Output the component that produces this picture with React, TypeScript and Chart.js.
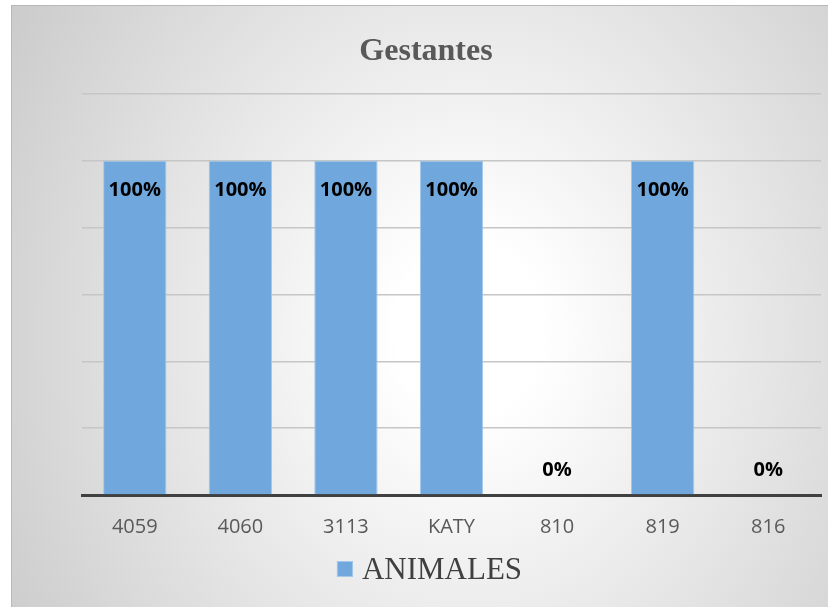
import React, { useEffect, useRef } from 'react';
import { Chart, registerables } from 'chart.js';

Chart.register(...registerables);

const TITLE = 'Gestantes';
const SERIES_LABEL = 'ANIMALES';
const CATEGORIES = ['4059', '4060', '3113', 'KATY', '810', '819', '816'];
const VALUES = [1, 1, 1, 1, 0, 1, 0];
const Y_MIN = 0;
const Y_MAX = 1.2;
const Y_STEP = 0.2;

const BAR_COLOR = '#70a7dc';
const BAR_EDGE = '#a3c8ea';

const fmtPct = (v: number) => `${Math.round(v * 100)}%`;

const decorPlugin = {
  id: 'decor',
  afterDatasetsDraw(chart: any) {
    const ctx = chart.ctx;
    const meta = chart.getDatasetMeta(0);
    const base = chart.scales.y.getPixelForValue(0);
    ctx.save();
    ctx.font = 'bold 20px "Open Sans"';
    ctx.fillStyle = '#000000';
    ctx.textAlign = 'center';
    ctx.textBaseline = 'middle';
    meta.data.forEach((bar: any, i: number) => {
      const v = VALUES[i];
      const y = v > 0 ? bar.y + 29 : base - 25;
      ctx.fillText(fmtPct(v), bar.x, y);
    });
    ctx.restore();
  },
  afterDraw(chart: any) {
    const ctx = chart.ctx;
    ctx.save();
    // title
    ctx.font = 'bold 32px "Liberation Serif"';
    ctx.fillStyle = '#595959';
    ctx.textAlign = 'center';
    ctx.textBaseline = 'alphabetic';
    ctx.fillText(TITLE, 414, 54);
    // legend
    ctx.font = '31px "Liberation Serif"';
    const tw = ctx.measureText(SERIES_LABEL).width;
    const box = 16;
    const gap = 9;
    const total = box + gap + tw;
    const cx = 417.5;
    const sx = cx - total / 2;
    ctx.fillStyle = BAR_COLOR;
    ctx.fillRect(sx, 555, box, box);
    ctx.strokeStyle = BAR_EDGE;
    ctx.lineWidth = 1;
    ctx.strokeRect(sx + 0.5, 555.5, box - 1, box - 1);
    ctx.fillStyle = '#404040';
    ctx.textAlign = 'left';
    ctx.fillText(SERIES_LABEL, sx + box + gap, 573);
    ctx.restore();
  },
};

export default function App() {
  const ref = useRef<HTMLCanvasElement>(null);

  useEffect(() => {
    document.body.style.margin = '0';
    const canvas = ref.current;
    if (!canvas) return;
    const chart = new Chart(canvas, {
      type: 'bar',
      data: {
        labels: CATEGORIES,
        datasets: [
          {
            label: SERIES_LABEL,
            data: VALUES,
            backgroundColor: BAR_COLOR,
            borderColor: BAR_EDGE,
            borderWidth: 1,
            barPercentage: 0.6,
            categoryPercentage: 1,
          },
        ],
      },
      options: {
        responsive: false,
        animation: false,
        layout: { padding: { left: 70, right: 7, top: 88, bottom: 0 } },
        plugins: {
          legend: { display: false },
          title: { display: false },
          tooltip: { enabled: false },
        },
        scales: {
          x: {
            grid: { display: false },
            border: { display: true, color: '#404040', width: 3 },
            ticks: {
              color: '#595959',
              font: { family: '"Open Sans"', size: 20 },
              padding: 12,
            },
            afterFit: (s: any) => {
              s.height = 112;
            },
          },
          y: {
            min: Y_MIN,
            max: Y_MAX,
            ticks: { display: false, stepSize: Y_STEP },
            grid: { color: '#c6c6c6', lineWidth: 1.5, drawTicks: false },
            border: { display: false },
            afterFit: (s: any) => {
              s.width = 0;
            },
          },
        },
      },
      plugins: [decorPlugin],
    });
    return () => chart.destroy();
  }, []);

  return (
    <div
      style={{
        position: 'absolute',
        left: 0,
        top: 0,
        width: 828,
        height: 607,
        background: '#ffffff',
        overflow: 'hidden',
      }}
    >
      <div
        style={{
          position: 'absolute',
          left: 11,
          top: 5,
          width: 817,
          height: 602,
          boxSizing: 'border-box',
          borderLeft: '1px solid #b8b8b8',
          borderTop: '1px solid #b8b8b8',
          background:
            'radial-gradient(ellipse 600px 700px at 56% 54%, #ffffff 0%, #ffffff 12%, #c4c4c4 100%)',
        }}
      >
        <canvas ref={ref} width={816} height={601} style={{ display: 'block', width: 816, height: 601 }} />
      </div>
    </div>
  );
}
